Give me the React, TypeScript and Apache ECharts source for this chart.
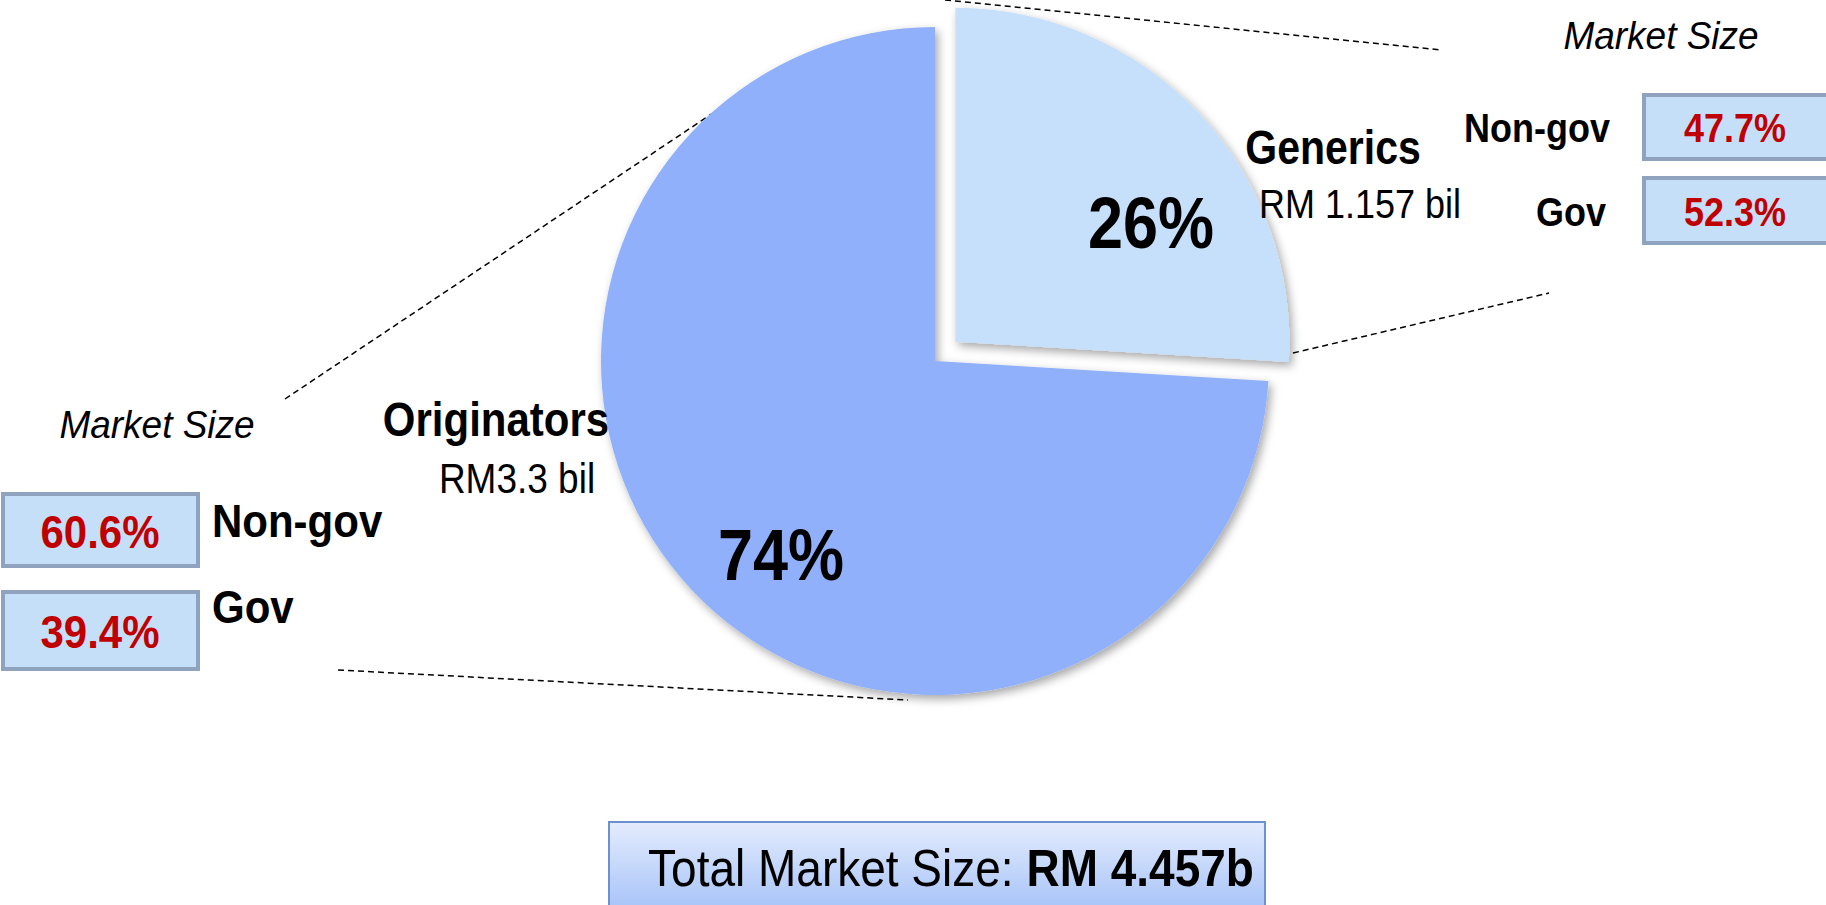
import React, { useEffect, useRef } from 'react';
import * as echarts from 'echarts';

const categories = ['Generics', 'Originators'];
const marketValues = [1.157, 3.3];
const valueTexts = ['RM 1.157 bil', 'RM3.3 bil'];
const sectorLabels = ['Non-gov', 'Gov'];
const genericsShares = ['47.7%', '52.3%'];
const originatorsShares = ['60.6%', '39.4%'];
const totalCaption = 'Total Market Size: ';
const totalText = 'RM 4.457b';
const marketSizeTitle = 'Market Size';
const sliceColors = ['#C6DFFA', '#91B0FC'];

const FONT = '"Liberation Sans", Arial, sans-serif';

function txt(x: number, y: number, text: string, size: number, o: any = {}) {
  return {
    type: 'text',
    x,
    y,
    scaleY: o.sy ?? 1.15,
    z: o.z ?? 50,
    style: {
      text,
      fontSize: size,
      fontFamily: FONT,
      fontWeight: o.bold ? 'bold' : 'normal',
      fontStyle: o.italic ? 'italic' : 'normal',
      fill: o.color || '#000',
      align: o.align || 'left',
      verticalAlign: 'middle',
    },
  };
}

function box(x: number, y: number, w: number, h: number) {
  return {
    type: 'rect',
    z: 40,
    shape: { x, y, width: w, height: h },
    style: { fill: '#C6DFF8', stroke: '#8FA3BE', lineWidth: 4 },
  };
}

function dash(x1: number, y1: number, x2: number, y2: number) {
  return {
    type: 'line',
    z: 1,
    shape: { x1, y1, x2, y2 },
    style: { stroke: '#000', lineWidth: 1.5, lineDash: [6, 4] },
  };
}

export default function App() {
  const ref = useRef<HTMLDivElement>(null);
  useEffect(() => {
    document.body.style.margin = '0';
    document.body.style.overflow = 'hidden';
    const chart = echarts.init(ref.current!, null, { renderer: 'svg' });
    const total = marketValues.reduce((a, b) => a + b, 0);
    const pct = marketValues.map((v) => Math.round((v / total) * 100) + '%');
    const RED = '#C00000';

    chart.setOption({
      animation: false,
      backgroundColor: '#fff',
      series: [
        {
          type: 'pie',
          center: [935, 361],
          radius: 334,
          startAngle: 90,
          clockwise: true,
          selectedMode: 'single',
          selectedOffset: 28,
          label: { show: false },
          labelLine: { show: false },
          emphasis: { disabled: true },
          itemStyle: {
            shadowBlur: 10,
            shadowColor: 'rgba(0,0,0,0.35)',
            shadowOffsetX: 3,
            shadowOffsetY: 4,
          },
          data: categories.map((c, i) => ({
            name: c,
            value: marketValues[i],
            selected: i === 0,
            itemStyle: { color: sliceColors[i] },
          })),
        },
      ],
      graphic: [
        dash(945, 0, 1442, 50),
        dash(1293, 353, 1549, 293),
        dash(285, 399, 713, 113),
        dash(338, 670, 908, 700),
        // percent labels on slices
        txt(1151, 223, pct[0], 63, { bold: true, align: 'center', z: 100 }),
        txt(781, 555, pct[1], 63, { bold: true, align: 'center', z: 100 }),
        // right side
        txt(1661, 36, marketSizeTitle, 37, { italic: true, align: 'center', sy: 1.05 }),
        txt(1333, 147, categories[0], 41, { bold: true, align: 'center' }),
        txt(1360, 204, valueTexts[0], 36, { align: 'center' }),
        txt(1610, 128, sectorLabels[0], 36, { bold: true, align: 'right' }),
        txt(1606, 212, sectorLabels[1], 36, { bold: true, align: 'right' }),
        box(1644, 95, 200, 64),
        box(1644, 178, 200, 65),
        txt(1735, 128, genericsShares[0], 36, { bold: true, align: 'center', color: RED }),
        txt(1735, 212, genericsShares[1], 36, { bold: true, align: 'center', color: RED }),
        // left side
        txt(157, 425, marketSizeTitle, 37, { italic: true, align: 'center', sy: 1.05 }),
        txt(496, 419, categories[1], 42, { bold: true, align: 'center' }),
        txt(517, 478, valueTexts[1], 37, { align: 'center' }),
        txt(212, 521, sectorLabels[0], 42, { bold: true, sy: 1.08 }),
        txt(212, 607, sectorLabels[1], 42, { bold: true, sy: 1.08 }),
        box(3, 494, 195, 72),
        box(3, 592, 195, 77),
        txt(100, 532, originatorsShares[0], 42, { bold: true, align: 'center', color: RED, sy: 1.08 }),
        txt(100, 632, originatorsShares[1], 42, { bold: true, align: 'center', color: RED, sy: 1.08 }),
        // total box
        {
          type: 'rect',
          z: 40,
          shape: { x: 609, y: 822, width: 656, height: 95 },
          style: {
            fill: {
              type: 'linear',
              x: 0,
              y: 0,
              x2: 0,
              y2: 1,
              colorStops: [
                { offset: 0, color: '#E4ECFD' },
                { offset: 1, color: '#A2C0F8' },
              ],
            },
            stroke: '#6D90D0',
            lineWidth: 2,
          },
        },
        {
          type: 'text',
          x: 951,
          y: 868,
          scaleY: 1.12,
          z: 50,
          style: {
            text: `{a|${totalCaption}}{b|${totalText}}`,
            align: 'center',
            verticalAlign: 'middle',
            rich: {
              a: { fontSize: 46, fontFamily: FONT, fill: '#000', fontWeight: 'normal' },
              b: { fontSize: 46, fontFamily: FONT, fill: '#000', fontWeight: 'bold' },
            },
          },
        },
      ],
    });
    return () => chart.dispose();
  }, []);
  return <div ref={ref} style={{ width: 1826, height: 905 }} />;
}
